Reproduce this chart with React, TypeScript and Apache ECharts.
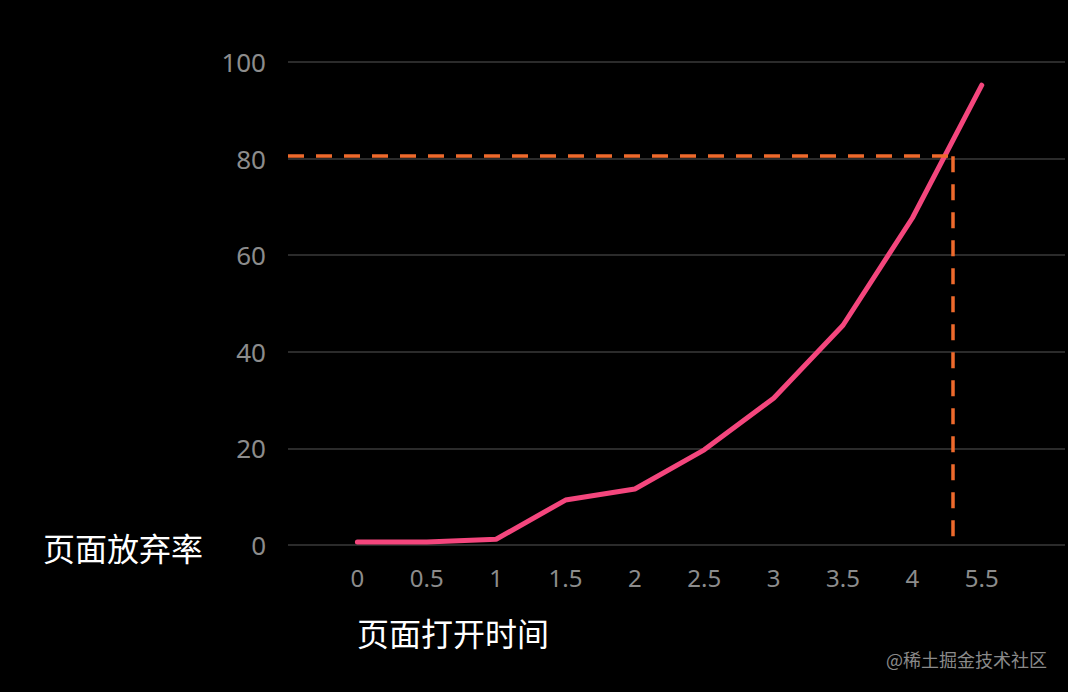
import React, { useEffect, useRef } from 'react';
import * as echarts from 'echarts';

// page-open time (seconds) vs abandon rate (%)
const timeLabels = ['0', '0.5', '1', '1.5', '2', '2.5', '3', '3.5', '4', '5.5'];
const abandonRate = [0.6, 0.6, 1.2, 9.3, 11.6, 19.7, 30.4, 45.5, 67.7, 95.2];
const yTicks = [0, 20, 40, 60, 80, 100];

// threshold guide (80% crossing)
const thresholdValue = 80.5;
const thresholdIndex = 8.585;

const App: React.FC = () => {
  const chartRef = useRef<HTMLDivElement>(null);

  useEffect(() => {
    if (!chartRef.current) return;
    document.body.style.margin = '0';
    document.body.style.background = '#000';

    const chart = echarts.init(chartRef.current, undefined, { renderer: 'svg' });

    const option: echarts.EChartsOption = {
      animation: false,
      backgroundColor: '#000',
      grid: {
        left: 288,
        right: 3,
        top: 62,
        bottom: 147,
      },
      xAxis: {
        type: 'value',
        min: -1,
        max: 10.2,
        interval: 1,
        axisLine: { show: false },
        axisTick: { show: false },
        splitLine: { show: false },
        axisLabel: {
          color: '#8c8c8c',
          fontSize: 24,
          fontFamily: 'Noto Sans',
          margin: 20,
          formatter: (v: number) => {
            const i = Math.round(v);
            return Math.abs(v - i) < 1e-6 && i >= 0 && i < timeLabels.length ? timeLabels[i] : '';
          },
        },
      },
      yAxis: {
        type: 'value',
        min: yTicks[0],
        max: yTicks[yTicks.length - 1],
        interval: 20,
        axisLine: { show: false },
        axisTick: { show: false },
        splitLine: { lineStyle: { color: '#3a3a3a', width: 1.5 } },
        axisLabel: {
          color: '#8c8c8c',
          fontSize: 26,
          fontFamily: 'Noto Sans',
          margin: 22,
        },
      },
      series: [
        {
          type: 'line',
          data: abandonRate.map((v, i) => [i, v]),
          showSymbol: false,
          clip: false,
          lineStyle: { color: '#f4467d', width: 5, cap: 'round' },
          markLine: {
            silent: true,
            symbol: 'none',
            label: { show: false },
            lineStyle: { color: '#ee6a2c', width: 3.5, type: [16, 12] },
            data: [
              [{ coord: [-1, thresholdValue] }, { coord: [thresholdIndex, thresholdValue] }],
              [{ coord: [thresholdIndex, thresholdValue] }, { coord: [thresholdIndex, 0] }],
            ],
          },
        },
      ],
      graphic: [
        {
          type: 'text',
          left: 43,
          top: 531,
          style: {
            text: '页面放弃率',
            fill: '#fff',
            fontSize: 32,
            fontFamily: 'Noto Sans CJK SC',
          },
        },
        {
          type: 'text',
          left: 357,
          top: 616,
          style: {
            text: '页面打开时间',
            fill: '#fff',
            fontSize: 32,
            fontFamily: 'Noto Sans CJK SC',
          },
        },
        {
          type: 'text',
          left: 886,
          top: 650,
          style: {
            text: '@稀土掘金技术社区',
            fill: '#8a8a8a',
            fontSize: 18,
            fontFamily: 'Noto Sans CJK SC',
          },
        },
      ],
    };

    chart.setOption(option);

    return () => {
      chart.dispose();
    };
  }, []);

  return <div ref={chartRef} style={{ width: 1068, height: 692 }} />;
};

export default App;
